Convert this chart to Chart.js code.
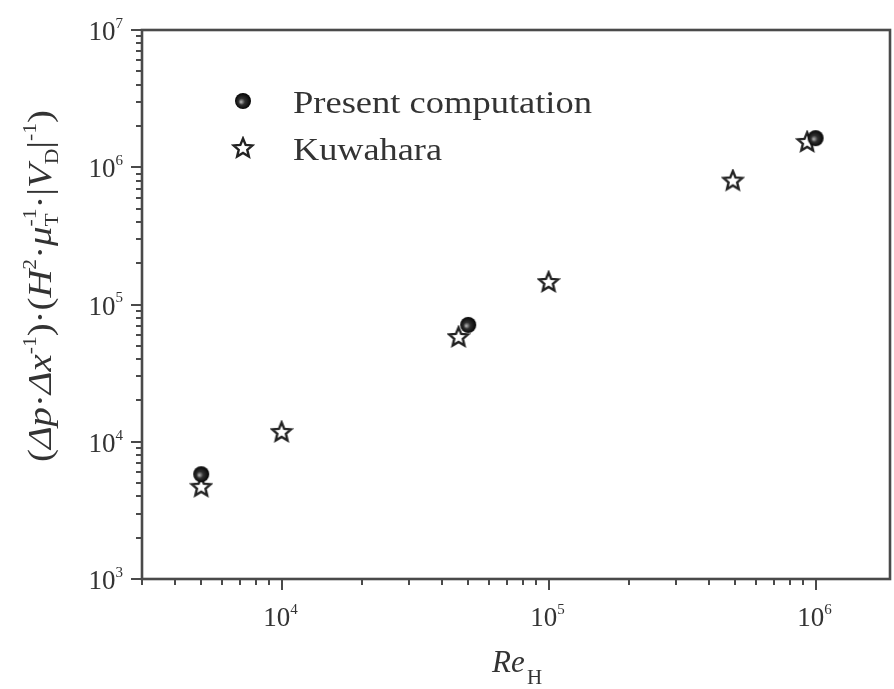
<!DOCTYPE html>
<html><head><meta charset="utf-8">
<script src="https://cdn.jsdelivr.net/npm/chart.js@4/dist/chart.umd.min.js"></script>
<style>html,body{margin:0;padding:0;background:#fff}#wrap{width:894px;height:689px;position:relative}canvas{display:block}</style>
</head><body><div id="wrap"><canvas id="c" width="894" height="689"></canvas></div>
<script>
// ---- data ----
const seriesNames = ['Present computation', 'Kuwahara'];
const presentRe  = [5000, 50000, 1000000];
const presentVal = [5800, 71000, 1630000];
const kuwaharaRe  = [5000, 10000, 46000, 100000, 490000, 930000];
const kuwaharaVal = [4700, 11800, 58000, 146000, 800000, 1530000];
const xMajorTicks = [1e4, 1e5, 1e6];
const yMajorTicks = [1e3, 1e4, 1e5, 1e6, 1e7];
const xRange = [3000, 1.9e6];
const yRange = [1e3, 1e7];

// ---- marker images ----
function makeCircle() {
  const c = document.createElement('canvas'); c.width = 18; c.height = 18;
  const g = c.getContext('2d');
  const grd = g.createRadialGradient(7, 10, 0.5, 9, 9, 8.5);
  grd.addColorStop(0, '#a8a8a8'); grd.addColorStop(0.35, '#303030'); grd.addColorStop(1, '#000');
  g.fillStyle = grd; g.beginPath(); g.arc(9, 9, 8, 0, Math.PI * 2); g.fill();
  return c;
}
function makeStar() {
  const c = document.createElement('canvas'); c.width = 24; c.height = 24;
  const g = c.getContext('2d');
  const R = 10, r = 4.5, cx = 12, cy = 12.5;
  g.beginPath();
  for (let i = 0; i < 10; i++) {
    const rad = i % 2 === 0 ? R : r;
    const a = -Math.PI / 2 + i * Math.PI / 5;
    const x = cx + rad * Math.cos(a), y = cy + rad * Math.sin(a);
    i ? g.lineTo(x, y) : g.moveTo(x, y);
  }
  g.closePath();
  g.fillStyle = '#fff'; g.fill();
  g.lineWidth = 2.4; g.strokeStyle = '#222'; g.lineJoin = 'miter'; g.stroke();
  return c;
}
const circleImg = makeCircle();
const starImg = makeStar();

const SERIF = '"Liberation Serif", "Times New Roman", serif';
const AXIS_COLOR = '#4a4a4a';
const TEXT_COLOR = '#333';

function fontFor(r, size) {
  const s = r.p === 'b' ? size : Math.round(size * 0.55);
  return (r.it ? 'italic ' : '') + s + 'px ' + SERIF;
}
function richWidth(ctx, runs, size) {
  let w = 0, pending = 0;
  for (const r of runs) {
    ctx.font = fontFor(r, size);
    const m = ctx.measureText(r.t).width;
    if (r.stack) { pending = Math.max(pending, m); continue; }
    if (pending) { w += Math.max(pending, m); pending = 0; } else w += m;
  }
  return w + pending;
}
function drawRich(ctx, runs, size, x, y) {
  ctx.textBaseline = 'alphabetic'; ctx.textAlign = 'left';
  let pending = 0;
  for (const r of runs) {
    ctx.font = fontFor(r, size);
    const m = ctx.measureText(r.t).width;
    let dy = 0;
    if (r.p === 'sup') dy = -size * 0.45;
    if (r.p === 'sub') dy = size * 0.2;
    ctx.fillText(r.t, x, y + dy);
    if (r.stack) { pending = Math.max(pending, m); continue; }
    if (pending) { x += Math.max(pending, m); pending = 0; } else x += m;
  }
}

const yTitleRuns = [
  {t: '(', p: 'b'}, {t: 'Δp', it: 1, p: 'b'}, {t: '·', p: 'b'}, {t: 'Δx', it: 1, p: 'b'}, {t: '-1', p: 'sup'},
  {t: ')', p: 'b'}, {t: '·', p: 'b'}, {t: '(', p: 'b'}, {t: 'H', it: 1, p: 'b'}, {t: '2', p: 'sup'},
  {t: '·', p: 'b'}, {t: 'μ', it: 1, p: 'b'}, {t: 'T', p: 'sub', stack: 1}, {t: '-1', p: 'sup'},
  {t: '·', p: 'b'}, {t: '|', p: 'b'}, {t: 'V', it: 1, p: 'b'}, {t: 'D', p: 'sub'}, {t: '|', p: 'b'},
  {t: '-1', p: 'sup'}, {t: ')', p: 'b'}
];

const decorPlugin = {
  id: 'decor',
  beforeDatasetsDraw(chart) {
    const ctx = chart.ctx, a = chart.chartArea;
    const xs = chart.scales.x, ys = chart.scales.y;
    ctx.save();
    ctx.strokeStyle = AXIS_COLOR; ctx.lineWidth = 2.6;
    ctx.strokeRect(a.left, a.top, a.right - a.left, a.bottom - a.top);
    ctx.lineWidth = 2;
    for (let d = 1e3; d <= 1e7; d *= 10) {
      for (let m = 1; m <= 9; m++) {
        const v = m * d;
        if (v >= xRange[0] && v <= xRange[1]) {
          const px = Math.round(xs.getPixelForValue(v));
          const len = m === 1 ? 11 : 6;
          ctx.beginPath(); ctx.moveTo(px, a.bottom); ctx.lineTo(px, a.bottom + len); ctx.stroke();
        }
        if (v >= yRange[0] && v <= yRange[1]) {
          const py = Math.round(ys.getPixelForValue(v));
          const len = m === 1 ? 11 : 6;
          ctx.beginPath(); ctx.moveTo(a.left, py); ctx.lineTo(a.left - len, py); ctx.stroke();
        }
      }
    }
    ctx.fillStyle = TEXT_COLOR;
    for (const v of xMajorTicks) {
      const px = xs.getPixelForValue(v);
      const e = String(Math.round(Math.log10(v)));
      const runs = [{t: '10', p: 'b'}, {t: e, p: 'sup'}];
      const w = richWidth(ctx, runs, 27);
      drawRich(ctx, runs, 27, px - w / 2 - 1, a.bottom + 47);
    }
    for (const v of yMajorTicks) {
      const py = ys.getPixelForValue(v);
      const e = String(Math.round(Math.log10(v)));
      const runs = [{t: '10', p: 'b'}, {t: e, p: 'sup'}];
      const w = richWidth(ctx, runs, 27);
      drawRich(ctx, runs, 27, 123 - w, py + 10);
    }
    ctx.font = 'italic 31px ' + SERIF; ctx.textAlign = 'left'; ctx.textBaseline = 'alphabetic';
    ctx.fillText('Re', 492, 672);
    ctx.font = '21px ' + SERIF;
    ctx.fillText('H', 527, 684);
    ctx.save();
    ctx.translate(51, 286); ctx.rotate(-Math.PI / 2);
    const tw = richWidth(ctx, yTitleRuns, 34);
    ctx.scale(352 / tw, 1);
    drawRich(ctx, yTitleRuns, 34, -tw / 2, 0);
    ctx.restore();
    ctx.drawImage(circleImg, 243 - 9, 101 - 9);
    ctx.drawImage(starImg, 243 - 12, 148 - 12);
    ctx.font = '31px ' + SERIF; ctx.fillStyle = TEXT_COLOR;
    const legendY = [113, 160];
    const legendW = [299, 149];
    seriesNames.forEach((n, i) => {
      const mw = ctx.measureText(n).width;
      ctx.save(); ctx.translate(293, legendY[i]); ctx.scale(legendW[i] / mw, 1);
      ctx.fillText(n, 0, 0); ctx.restore();
    });
    ctx.restore();
  }
};

new Chart(document.getElementById('c'), {
  type: 'scatter',
  data: {
    datasets: [
      { label: seriesNames[0], data: presentRe.map((x, i) => ({x, y: presentVal[i]})),
        pointStyle: circleImg, pointRadius: 9, pointHoverRadius: 9 },
      { label: seriesNames[1], data: kuwaharaRe.map((x, i) => ({x, y: kuwaharaVal[i]})),
        pointStyle: starImg, pointRadius: 12, pointHoverRadius: 12 }
    ]
  },
  options: {
    responsive: false, animation: false, devicePixelRatio: 1,
    layout: { autoPadding: false, padding: { left: 142, top: 30, right: 4, bottom: 110 } },
    plugins: { legend: { display: false }, tooltip: { enabled: false } },
    scales: {
      x: { type: 'logarithmic', min: xRange[0], max: xRange[1], display: false },
      y: { type: 'logarithmic', min: yRange[0], max: yRange[1], display: false }
    }
  },
  plugins: [decorPlugin]
});
</script>
</body></html>
